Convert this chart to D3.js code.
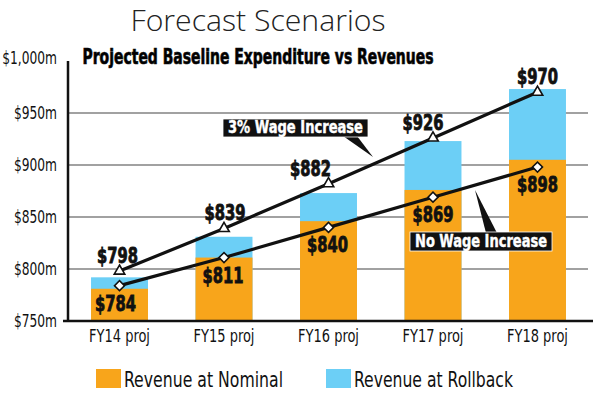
<!DOCTYPE html>
<html>
<head>
<meta charset="utf-8">
<script src="https://cdn.jsdelivr.net/npm/d3@7"></script>
<style>
body { margin: 0; background: #fff; }
svg { display: block; }
</style>
</head>
<body>
<div id="chart"></div>
<script>
// values ($m)
var categories = ["FY14 proj", "FY15 proj", "FY16 proj", "FY17 proj", "FY18 proj"];
var revNominal = [781, 811, 846, 876, 905];
var revRollback = [792, 831, 873, 923, 973];
var wageIncrease = [798, 839, 882, 926, 970];
var noWageIncrease = [784, 811, 840, 869, 898];
var yTicks = [750, 800, 850, 900, 950, 1000];
var legendLabels = ["Revenue at Nominal", "Revenue at Rollback"];

//---------------------------------------------------------------------------//
var svgWidth = 600, svgHeight = 395;
var narrow = "'DejaVu Sans Condensed', 'DejaVu Sans', sans-serif";
var orange = "#f8a51b", blue = "#6ccff6";

var svg = d3.select("#chart").append("svg")
    .attr("width", svgWidth)
    .attr("height", svgHeight);

var x = d3.scaleBand().domain(categories)
    .range([67, 590]).paddingInner(0.455).paddingOuter(0.23);
var y = d3.scaleLinear().domain([750, 1000]).range([321, 61]);
var cx = function(d, i) { return x(categories[i]) + x.bandwidth() / 2; };

// squeeze text horizontally to look like the condensed face of the original
function squeeze(sel, factor) {
    sel.each(function() {
        var w = this.getComputedTextLength();
        d3.select(this).attr("textLength", w * factor).attr("lengthAdjust", "spacingAndGlyphs");
    });
}

// titles
svg.append("text")
    .attr("x", 258).attr("y", 31).attr("text-anchor", "middle")
    .style("font-family", "'Open Sans', Lato, sans-serif").style("font-weight", 300).style("font-size", "29px")
    .attr("textLength", 255).attr("lengthAdjust", "spacingAndGlyphs")
    .attr("fill", "#222")
    .text("Forecast Scenarios");
svg.append("text")
    .attr("x", 258).attr("y", 64).attr("text-anchor", "middle")
    .style("font-family", narrow).style("font-weight", 900).style("font-size", "21px")
    .attr("stroke", "#111").attr("stroke-width", 0.7)
    .attr("textLength", 351).attr("lengthAdjust", "spacingAndGlyphs")
    .text("Projected Baseline Expenditure vs Revenues");

// gridlines
svg.append("g").selectAll("line")
    .data(yTicks.filter(function(d) { return d > 750 && d < 1000; }))
    .enter().append("line")
    .attr("x1", 68).attr("x2", 588)
    .attr("y1", function(d) { return y(d); }).attr("y2", function(d) { return y(d); })
    .attr("stroke", "#444").attr("stroke-width", 1.2);

// bars: rollback behind, nominal in front
svg.append("g").selectAll("rect")
    .data(revRollback).enter().append("rect")
    .attr("x", function(d, i) { return x(categories[i]); })
    .attr("width", x.bandwidth())
    .attr("y", function(d) { return y(d); })
    .attr("height", function(d) { return y(750) - y(d); })
    .attr("fill", blue);
svg.append("g").selectAll("rect")
    .data(revNominal).enter().append("rect")
    .attr("x", function(d, i) { return x(categories[i]); })
    .attr("width", x.bandwidth())
    .attr("y", function(d) { return y(d); })
    .attr("height", function(d) { return y(750) - y(d); })
    .attr("fill", orange);

// axes
var yAxis = svg.append("g")
    .attr("transform", "translate(57,0)")
    .call(d3.axisLeft(y).tickValues(yTicks).tickSize(0).tickPadding(0)
        .tickFormat(function(d) { return "$" + d3.format(",")(d) + "m"; }));
yAxis.select(".domain").remove();
yAxis.selectAll("text").style("font-family", narrow).style("font-size", "17px").attr("fill", "#111")
    .call(squeeze, 0.8);
yAxis.selectAll(".tick").filter(function(d) { return d === 1000; }).select("text").attr("dy", "0.15em");

var xAxis = svg.append("g")
    .attr("transform", "translate(0,322)")
    .call(d3.axisBottom(x).tickSize(0).tickPadding(8));
xAxis.select(".domain").remove();
xAxis.selectAll("text").style("font-family", narrow).style("font-size", "17px").attr("fill", "#111")
    .call(squeeze, 0.85);

svg.append("line").attr("x1", 68).attr("x2", 68).attr("y1", 61).attr("y2", 321)
    .attr("stroke", "#111").attr("stroke-width", 2.5);
svg.append("line").attr("x1", 63).attr("x2", 593).attr("y1", 321).attr("y2", 321)
    .attr("stroke", "#111").attr("stroke-width", 2.5);

// lines
var line = d3.line().x(cx).y(function(d) { return y(d); });
[wageIncrease, noWageIncrease].forEach(function(series) {
    svg.append("path").datum(series)
        .attr("d", line)
        .attr("fill", "none").attr("stroke", "#111").attr("stroke-width", 3.2);
});

// markers
svg.append("g").selectAll("path")
    .data(wageIncrease).enter().append("path")
    .attr("d", d3.symbol().type(d3.symbolTriangle).size(48))
    .attr("transform", function(d, i) { return "translate(" + cx(d, i) + "," + y(d) + ")"; })
    .attr("fill", "#fff").attr("stroke", "#111").attr("stroke-width", 1.6);
svg.append("g").selectAll("path")
    .data(noWageIncrease).enter().append("path")
    .attr("d", d3.symbol().type(d3.symbolSquare).size(50))
    .attr("transform", function(d, i) { return "translate(" + cx(d, i) + "," + y(d) + ") rotate(45)"; })
    .attr("fill", "#fff").attr("stroke", "#111").attr("stroke-width", 1.6);

// value labels
var wageShift = [-2, 1, -18, -10, 0];
var noWageShift = [-4, -1, -1, 0, 0];
function valueLabels(series, shift, dy) {
    svg.append("g").selectAll("text")
        .data(series).enter().append("text")
        .attr("x", function(d, i) { return cx(d, i) + shift[i]; })
        .attr("y", function(d) { return y(d) + dy; })
        .attr("text-anchor", "middle")
        .style("font-family", narrow).style("font-weight", 900).style("font-size", "21px")
        .attr("stroke", "#111").attr("stroke-width", 0.8)
        .attr("textLength", 41).attr("lengthAdjust", "spacingAndGlyphs")
        .attr("fill", "#111")
        .text(function(d) { return "$" + d; });
}
valueLabels(wageIncrease, wageShift, -8);
valueLabels(noWageIncrease, noWageShift, 25);

// callouts
function callout(bx, by, bw, bh, pointer, label) {
    var g = svg.append("g");
    g.append("polygon").attr("points", pointer.join(" ")).attr("fill", "#111");
    g.append("rect").attr("x", bx).attr("y", by).attr("width", bw).attr("height", bh)
        .attr("fill", "#111").attr("stroke", "#fff").attr("stroke-width", 0.8);
    g.append("text").attr("x", bx + bw / 2).attr("y", by + bh - 4)
        .attr("text-anchor", "middle").attr("fill", "#fff")
        .style("font-family", narrow).style("font-weight", 900).style("font-size", "17px")
        .attr("stroke", "#fff").attr("stroke-width", 0.4)
        .attr("textLength", bw - 10).attr("lengthAdjust", "spacingAndGlyphs")
        .text(label);
}
callout(223, 119, 145, 18, [[343, 136], [357, 136], [373, 157]], "3% Wage Increase");
callout(410, 232, 142, 19, [[486, 233], [497, 233], [475, 190]], "No Wage Increase");

// legend
var legend = svg.append("g");
[orange, blue].forEach(function(c, i) {
    var lx = i === 0 ? 96 : 326;
    legend.append("rect").attr("x", lx).attr("y", 369).attr("width", 25).attr("height", 19).attr("fill", c);
    legend.append("text").attr("x", lx + 28).attr("y", 387)
        .style("font-family", narrow).style("font-size", "22px").attr("fill", "#111")
        .attr("textLength", 159).attr("lengthAdjust", "spacingAndGlyphs")
        .text(legendLabels[i]);
});
</script>
</body>
</html>
